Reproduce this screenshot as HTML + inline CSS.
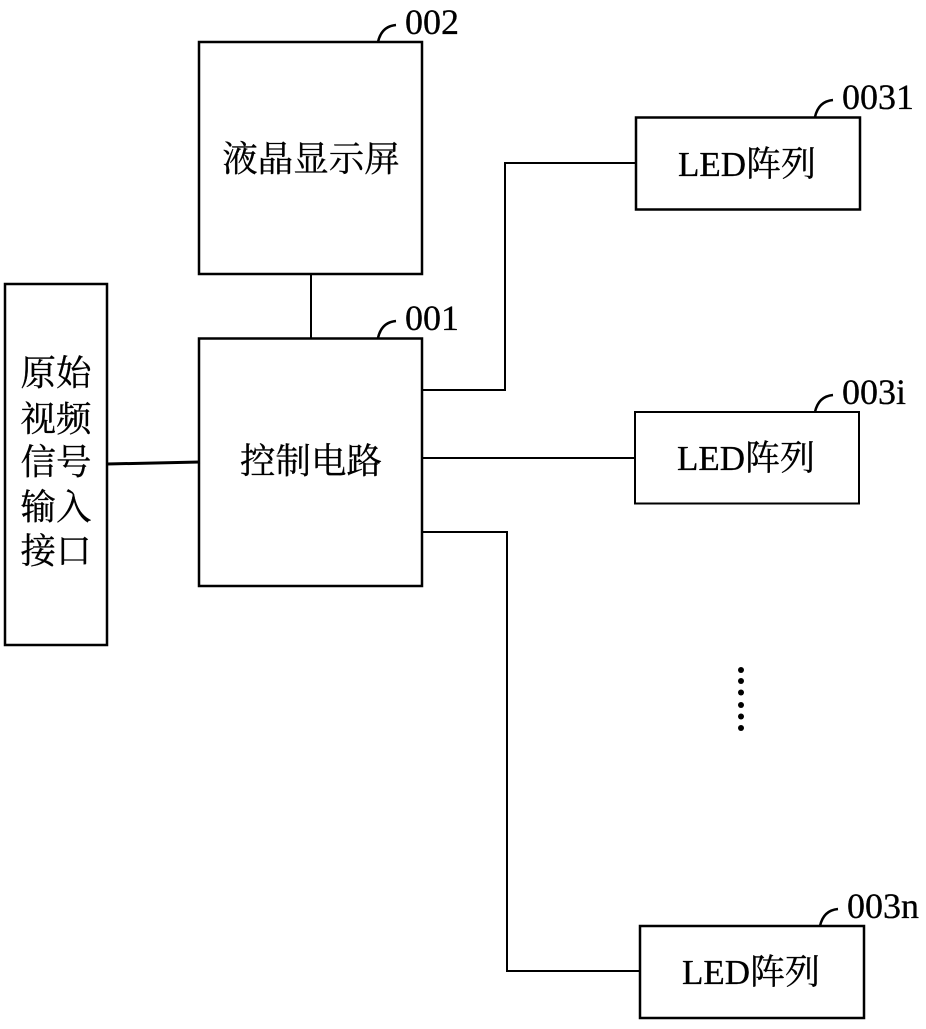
<!DOCTYPE html>
<html><head><meta charset="utf-8"><style>
html,body{margin:0;padding:0;background:#fff;width:926px;height:1029px;overflow:hidden}
svg{display:block}
text{fill:#000;stroke:#000;stroke-width:.3px;font-family:"Liberation Serif","Noto Serif CJK SC",serif}
.c{font-size:35.500px;text-anchor:middle}
.n{font-size:36px}
.l{font-size:35px}
</style></head><body>
<svg width="926" height="1029" viewBox="0 0 926 1029" xmlns="http://www.w3.org/2000/svg">
<g fill="none" stroke="#000">
<path d="M199 42H422V274H199Z" stroke-width="2.500"/>
<path d="M199 338.500H422V586H199Z" stroke-width="2.500"/>
<path d="M5 284H107V645H5Z" stroke-width="2.500"/>
<path d="M636 117.500H860V209.500H636Z" stroke-width="2.500"/>
<path d="M635 412H859V503.500H635Z" stroke-width="2"/>
<path d="M640 926H864V1018H640Z" stroke-width="2.500"/>
<path d="M311 275V339" stroke-width="2"/>
<path d="M107 464L200 462" stroke-width="3"/>
<path d="M423 390H505V163H636" stroke-width="2"/>
<path d="M423 458H635" stroke-width="2"/>
<path d="M423 532H507V971H640" stroke-width="2"/>
<path d="M378 42C380 33 385 26 396 25" stroke-width="2.500"/>
<path d="M378 338C380 329 385 322 396 321" stroke-width="2.500"/>
<path d="M815 117C817 108 822 101 833 100" stroke-width="2.500"/>
<path d="M815 412C817 403 822 396 833 395" stroke-width="2.500"/>
<path d="M820 926C822 917 827 910 838 909" stroke-width="2.500"/>
</g>
<g fill="#000">
<circle cx="741" cy="670" r="3"/><circle cx="741" cy="681" r="3"/><circle cx="741" cy="692.500" r="3"/>
<circle cx="741" cy="705" r="3"/><circle cx="741" cy="716.500" r="3"/><circle cx="741" cy="728" r="3"/>
</g>
<text class="n" x="405" y="34">002</text>
<text class="n" x="405" y="330">001</text>
<text class="n" x="842" y="109">0031</text>
<text class="n" x="842" y="404">003i</text>
<text class="n" x="847" y="918">003n</text>
<text class="c" x="311" y="171">液晶显示屏</text>
<text class="c" x="311" y="473">控制电路</text>
<text class="c" x="56" y="385">原始</text>
<text class="c" x="56" y="431">视频</text>
<text class="c" x="56" y="474">信号</text>
<text class="c" x="56" y="519">输入</text>
<text class="c" x="56" y="563">接口</text>
<text class="l" x="678" y="176">LED阵列</text>
<text class="l" x="677" y="470">LED阵列</text>
<text class="l" x="682" y="984">LED阵列</text>
</svg>
</body></html>
